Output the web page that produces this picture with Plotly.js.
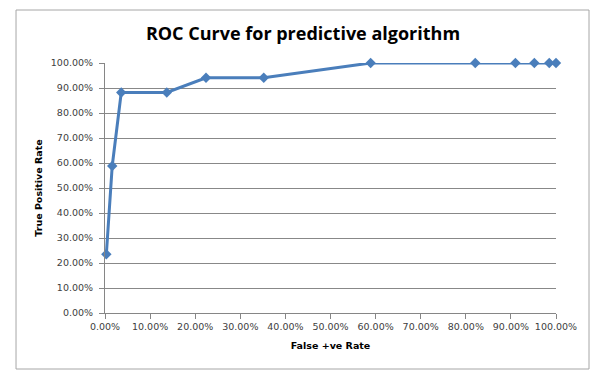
<!DOCTYPE html>
<html><head><meta charset="utf-8">
<script src="https://cdn.plot.ly/plotly-3.0.1.min.js"></script>
<style>html,body{margin:0;padding:0;background:#fff;}#chart{width:600px;height:379px;}</style>
</head><body><div id="chart"></div>
<script>
const falsePositiveRate = [0.003, 0.016, 0.036, 0.137, 0.224, 0.352, 0.589, 0.821, 0.910, 0.952, 0.985, 1.0];
const truePositiveRate  = [0.235, 0.588, 0.882, 0.882, 0.941, 0.941, 1.0, 1.0, 1.0, 1.0, 1.0, 1.0];
const tickValues = [0, 0.1, 0.2, 0.3, 0.4, 0.5, 0.6, 0.7, 0.8, 0.9, 1.0];

const trace = {
  x: falsePositiveRate, y: truePositiveRate, type: 'scatter', mode: 'lines+markers',
  line: {color: '#4a7ebb', width: 3},
  marker: {symbol: 'diamond', size: 8, color: '#4a7ebb'},
  cliponaxis: false,
  hoverinfo: 'none'
};
const axisFont = {family: 'DejaVu Sans, Tahoma, sans-serif', size: 9.5, color: '#404040'};
const layout = {
  width: 600, height: 379,
  margin: {l: 105, r: 44, t: 63, b: 66},
  paper_bgcolor: '#fff', plot_bgcolor: '#fff',
  showlegend: false,
  title: {text: '<b>ROC Curve for predictive algorithm</b>', x: 0.505, xanchor: 'center', y: 0.912, yanchor: 'middle',
          font: {family: 'Open Sans, Liberation Sans, sans-serif', size: 18, color: '#000'}},
  xaxis: {
    range: [0, 1], tickvals: tickValues, tickformat: '.2%',
    showgrid: false, zeroline: false, showline: true, linecolor: '#868686', linewidth: 1,
    ticks: 'outside', ticklen: 5, tickcolor: '#868686', tickfont: axisFont,
    title: {text: '<b>False +ve Rate</b>', font: {family: 'DejaVu Sans, Tahoma, sans-serif', size: 9.5, color: '#000'}, standoff: 10}
  },
  yaxis: {
    range: [0, 1], tickvals: tickValues, tickformat: '.2%',
    showgrid: true, gridcolor: '#888888', gridwidth: 1, zeroline: false,
    showline: true, linecolor: '#868686', linewidth: 1,
    ticks: 'outside', ticklen: 5, tickcolor: '#868686', tickfont: axisFont,
    ticklabelstandoff: 4,
    title: {text: '<b>True Positive Rate</b>', font: {family: 'DejaVu Sans, Tahoma, sans-serif', size: 9.5, color: '#000'}, standoff: 6}
  },
  shapes: [{type: 'rect', xref: 'paper', yref: 'paper', x0: -0.1973, x1: 1.0732, y0: -0.224, y1: 1.212,
            line: {color: '#a6a6a6', width: 1}, fillcolor: 'rgba(0,0,0,0)', layer: 'below'}]
};
Plotly.newPlot('chart', [trace], layout, {staticPlot: true, displayModeBar: false});
</script></body></html>
